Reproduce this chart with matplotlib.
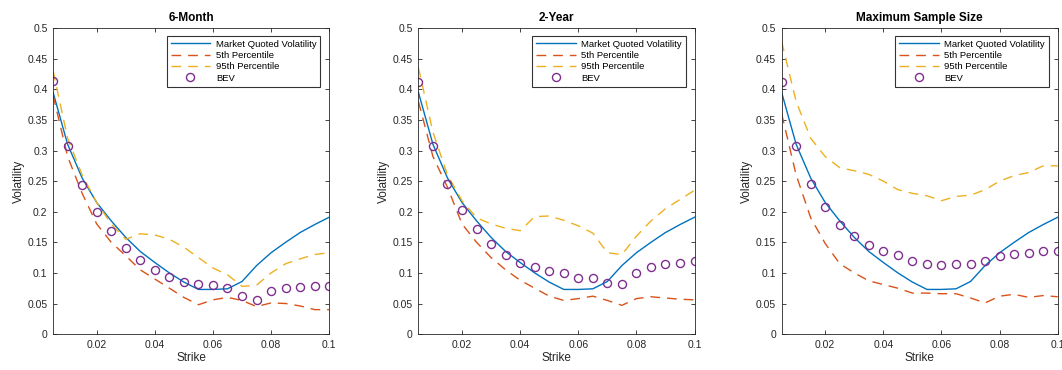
import numpy as np
import matplotlib
matplotlib.use("Agg")
import matplotlib.pyplot as plt

plt.rcParams['font.family'] = ['Liberation Sans', 'DejaVu Sans']

strike = [0.005, 0.01, 0.015, 0.02, 0.025, 0.03, 0.035, 0.04, 0.045, 0.05,
          0.055, 0.06, 0.065, 0.07, 0.075, 0.08, 0.085, 0.09, 0.095, 0.1]

# market quoted vol is the same curve in every panel
market = [0.395, 0.31, 0.255, 0.215, 0.185, 0.158, 0.135, 0.117, 0.1, 0.085,
          0.073, 0.073, 0.074, 0.086, 0.112, 0.133, 0.15, 0.166, 0.179, 0.191]

titles = ['6-Month', '2-Year', 'Maximum Sample Size']

p5_6m = [0.39, 0.29, 0.23, 0.18, 0.15, 0.128, 0.105, 0.09, 0.075, 0.06,
         0.048, 0.056, 0.06, 0.055, 0.045, 0.051, 0.05, 0.046, 0.04, 0.04]
p95_6m = [0.43, 0.32, 0.26, 0.215, 0.18, 0.155, 0.164, 0.162, 0.155, 0.142,
          0.125, 0.108, 0.097, 0.078, 0.08, 0.1, 0.115, 0.123, 0.13, 0.133]
bev_6m = [0.413, 0.307, 0.244, 0.2, 0.168, 0.141, 0.121, 0.105, 0.093, 0.085,
          0.082, 0.08, 0.075, 0.063, 0.055, 0.07, 0.075, 0.077, 0.078, 0.078]

p5_2y = [0.38, 0.29, 0.24, 0.18, 0.15, 0.125, 0.105, 0.088, 0.075, 0.062,
         0.055, 0.058, 0.062, 0.055, 0.047, 0.058, 0.061, 0.059, 0.057, 0.056]
p95_2y = [0.435, 0.33, 0.26, 0.218, 0.19, 0.18, 0.173, 0.169, 0.192, 0.193,
          0.186, 0.177, 0.165, 0.133, 0.13, 0.16, 0.185, 0.205, 0.22, 0.235]
bev_2y = [0.412, 0.307, 0.245, 0.203, 0.171, 0.147, 0.13, 0.117, 0.11, 0.103,
          0.1, 0.091, 0.091, 0.084, 0.082, 0.1, 0.109, 0.114, 0.117, 0.119]

p5_max = [0.36, 0.26, 0.19, 0.148, 0.115, 0.1, 0.087, 0.081, 0.075, 0.067,
          0.067, 0.066, 0.066, 0.059, 0.051, 0.062, 0.065, 0.06, 0.063, 0.061]
p95_max = [0.478, 0.38, 0.32, 0.29, 0.272, 0.267, 0.261, 0.25, 0.236, 0.23,
           0.226, 0.218, 0.225, 0.227, 0.236, 0.25, 0.259, 0.264, 0.275, 0.275]
bev_max = [0.412, 0.307, 0.246, 0.207, 0.178, 0.16, 0.145, 0.136, 0.129, 0.12,
           0.115, 0.113, 0.115, 0.115, 0.12, 0.127, 0.131, 0.132, 0.136, 0.136]

lower = [p5_6m, p5_2y, p5_max]
upper = [p95_6m, p95_2y, p95_max]
bev = [bev_6m, bev_2y, bev_max]

yticks = [0, 0.05, 0.1, 0.15, 0.2, 0.25, 0.3, 0.35, 0.4, 0.45, 0.5]
ytick_labels = ['0', '0.05', '0.1', '0.15', '0.2', '0.25', '0.3', '0.35', '0.4', '0.45', '0.5']
xticks = [0.02, 0.04, 0.06, 0.08, 0.1]
xtick_labels = ['0.02', '0.04', '0.06', '0.08', '0.1']

c_blue = (0, 0.447, 0.741)
c_red = (0.85, 0.325, 0.098)
c_yel = (0.929, 0.694, 0.125)
c_pur = (0.494, 0.184, 0.556)
ax_col = (0.15, 0.15, 0.15)

fig = plt.figure(figsize=(10.62, 3.70), dpi=100)
lefts = [0.050, 0.394, 0.736]

for i in range(3):
    ax = fig.add_axes([lefts[i], 0.097, 0.260, 0.827])
    ax.plot(strike, market, color=c_blue, lw=1.0, label='Market Quoted Volatility')
    ax.plot(strike, lower[i], color=c_red, lw=1.0, dashes=(7, 5), label='5th Percentile')
    ax.plot(strike, upper[i], color=c_yel, lw=1.0, dashes=(7, 5), label='95th Percentile')
    ax.plot(strike, bev[i], ls='none', marker='o', ms=5.8, mfc='none', mec=c_pur,
            mew=1.0, label='BEV')

    ax.set_xlim(0.005, 0.1)
    ax.set_ylim(0, 0.5)
    ax.set_xticks(xticks)
    ax.set_xticklabels(xtick_labels)
    ax.set_yticks(yticks)
    ax.set_yticklabels(ytick_labels)
    ax.tick_params(direction='in', top=True, right=True, length=3, width=0.6,
                   labelsize=7.5, colors=ax_col, pad=4)
    for s in ax.spines.values():
        s.set_color(ax_col)
        s.set_linewidth(0.6)
    ax.set_title(titles[i], fontsize=8.5, fontweight='bold', pad=5)
    ax.set_xlabel('Strike', fontsize=8.5, color=ax_col, labelpad=2)
    ax.set_ylabel('Volatility', fontsize=8.5, color=ax_col, labelpad=2)

    leg = ax.legend(loc='upper right', bbox_to_anchor=(0.985, 0.99), fontsize=6.8,
                    frameon=True, fancybox=False, handlelength=4.2,
                    borderpad=0.4, labelspacing=0.25, handletextpad=0.6)
    leg.get_frame().set_edgecolor('black')
    leg.get_frame().set_linewidth(0.8)

fig.savefig('out.png', dpi=100)
